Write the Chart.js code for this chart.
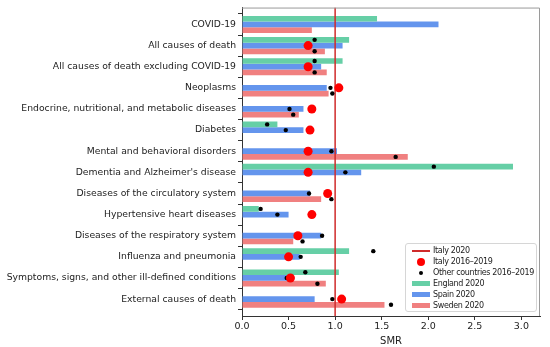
<!DOCTYPE html>
<html>
<head>
<meta charset="utf-8">
<script src="https://cdn.jsdelivr.net/npm/chart.js@4/dist/chart.umd.min.js"></script>
<style>
    body { margin: 0; background: #fff; }
    #wrap { position: relative; width: 550px; height: 347px; }
    #legend {
        position: absolute; left: 405px; top: 243px; width: 132px; height: 69px;
        border: 1px solid #d6d6d6; border-radius: 3px; background: rgba(255,255,255,0.85);
        font: 8px 'DejaVu Sans', sans-serif; letter-spacing: -0.35px; color: #222;
        box-sizing: border-box; padding-top: 1.5px; white-space: nowrap; overflow: hidden;
    }
    .item { display: flex; align-items: center; height: 10.9px; }
    .handle { width: 18px; flex: none; margin-left: 6px; margin-right: 3px; display: flex; justify-content: center; align-items: center; }
</style>
</head>
<body>
<div id="wrap">
    <canvas id="smr-chart" width="550" height="347"></canvas>
    <div id="legend"></div>
</div>
<script>
// Categories, top to bottom
const categories = [
    'COVID-19',
    'All causes of death',
    'All causes of death excluding COVID-19',
    'Neoplasms',
    'Endocrine, nutritional, and metabolic diseases',
    'Diabetes',
    'Mental and behavioral disorders',
    "Dementia and Alzheimer's disease",
    'Diseases of the circulatory system',
    'Hypertensive heart diseases',
    'Diseases of the respiratory system',
    'Influenza and pneumonia',
    'Symptoms, signs, and other ill-defined conditions',
    'External causes of death'
];

// SMR 2020 bars
const england2020 = [1.45, 1.15, 1.08, null, null, 0.38, null, 2.91, null, 0.18, null, 1.15, 1.04, null];
const spain2020 = [2.11, 1.08, 0.85, 0.91, 0.66, 0.66, 1.02, 1.28, 0.73, 0.50, 0.85, 0.62, 0.49, 0.78];
const sweden2020 = [0.75, 0.89, 0.91, 0.93, 0.61, null, 1.78, null, 0.85, null, 0.55, null, 0.90, 1.53];

// 2016-2019 reference points
const italyPast = [null, 0.71, 0.71, 1.04, 0.75, 0.73, 0.71, 0.71, 0.92, 0.75, 0.60, 0.50, 0.52, 1.07];
const otherEngland = [null, 0.78, 0.78, null, null, 0.27, null, 2.06, null, 0.20, null, 1.41, 0.68, null];
const otherSpain = [null, 0.69, 0.69, 0.95, 0.51, 0.47, 0.96, 1.11, 0.72, 0.38, 0.86, 0.63, 0.48, 0.97];
const otherSweden = [null, 0.78, 0.78, 0.97, 0.55, null, 1.65, null, 0.96, null, 0.65, null, 0.81, 1.60];

// Italy 2020 reference line
const italy2020 = 1.0;

const xTicks = [0, 0.5, 1, 1.5, 2, 2.5, 3];

const colors = {
    italyLine: '#cf2b2b',
    italyPast: '#ff0000',
    other: '#000000',
    england: '#66cfa6',
    spain: '#6495ed',
    sweden: '#f08080'
};

const catPct = 0.81;
const slot = catPct / 3;
const yMin = -0.8, yMax = categories.length - 1 + 0.8;

function barData(values) {
    return values.map((v, i) => ({ x: v, y: i })).filter(p => p.x !== null);
}
function dotData(values, offset) {
    return values.map((v, i) => ({ x: v, y: i + offset })).filter(p => p.x !== null);
}

const framePlugin = {
    id: 'frame',
    afterDatasetsDraw(chart) {
        const a = chart.chartArea;
        const ctx = chart.ctx;
        ctx.save();
        ctx.strokeStyle = '#9a9a9a';
        ctx.lineWidth = 1;
        ctx.beginPath();
        ctx.moveTo(a.left, a.top + 0.5);
        ctx.lineTo(a.right - 0.5, a.top + 0.5);
        ctx.lineTo(a.right - 0.5, a.bottom);
        ctx.stroke();
        ctx.restore();
    }
};

Chart.defaults.font.family = "'DejaVu Sans', sans-serif";
Chart.defaults.color = '#222';

const chart = new Chart(document.getElementById('smr-chart'), {
    type: 'bar',
    data: {
        datasets: [
            { type: 'scatter', label: 'Italy 2016\u20132019', data: dotData(italyPast, 0),
              backgroundColor: colors.italyPast, pointRadius: 4.5, pointBorderWidth: 0, order: 0 },
            { type: 'scatter', label: 'Other countries 2016\u20132019',
              data: dotData(otherEngland, -slot).concat(dotData(otherSpain, 0), dotData(otherSweden, slot)),
              backgroundColor: colors.other, pointRadius: 2.2, pointBorderWidth: 0, order: 1 },
            { type: 'line', label: 'Italy 2020', data: [{ x: italy2020, y: yMin }, { x: italy2020, y: yMax }],
              borderColor: colors.italyLine, borderWidth: 1.5, pointRadius: 0, order: 2 },
            { label: 'England 2020', data: barData(england2020), backgroundColor: colors.england, order: 3 },
            { label: 'Spain 2020', data: barData(spain2020), backgroundColor: colors.spain, order: 3 },
            { label: 'Sweden 2020', data: barData(sweden2020), backgroundColor: colors.sweden, order: 3 }
        ]
    },
    options: {
        indexAxis: 'y',
        responsive: false,
        animation: false,
        devicePixelRatio: 1,
        categoryPercentage: catPct,
        barPercentage: 1.0,
        layout: { padding: { top: 7, right: 10, left: 0, bottom: 0 } },
        plugins: { legend: { display: false }, tooltip: { enabled: false } },
        scales: {
            y: {
                type: 'linear',
                offset: false,
                min: yMin,
                max: yMax,
                reverse: true,
                afterBuildTicks: scale => { scale.ticks = categories.map((c, i) => ({ value: i })); },
                afterFit: scale => { scale.width = 242; },
                ticks: {
                    autoSkip: false,
                    font: { size: 9.25 },
                    padding: 2,
                    callback: v => categories[v]
                },
                grid: { drawOnChartArea: false, drawTicks: true, tickLength: 4, color: '#333' },
                border: { display: true, color: '#333' }
            },
            x: {
                type: 'linear',
                min: 0,
                max: 3.2,
                afterBuildTicks: scale => { scale.ticks = xTicks.map(v => ({ value: v })); },
                afterFit: scale => { scale.height = 31; },
                ticks: { font: { size: 9.5 }, padding: 1, callback: v => v.toFixed(1) },
                title: { display: true, text: 'SMR', font: { size: 10 }, padding: { top: 1, bottom: 0 } },
                grid: { drawOnChartArea: false, drawTicks: true, tickLength: 4, color: '#333' },
                border: { display: true, color: '#333' }
            }
        }
    },
    plugins: [framePlugin]
});

// HTML legend, in the order of the reference
const legendItems = [
    { text: 'Italy 2020', kind: 'line', color: colors.italyLine },
    { text: 'Italy 2016\u20132019', kind: 'dot', color: colors.italyPast, size: 8 },
    { text: 'Other countries 2016\u20132019', kind: 'dot', color: colors.other, size: 4 },
    { text: 'England 2020', kind: 'box', color: colors.england },
    { text: 'Spain 2020', kind: 'box', color: colors.spain },
    { text: 'Sweden 2020', kind: 'box', color: colors.sweden }
];
const legend = document.getElementById('legend');
legendItems.forEach(item => {
    const row = document.createElement('div');
    row.className = 'item';
    const handle = document.createElement('div');
    handle.className = 'handle';
    const mark = document.createElement('div');
    if (item.kind === 'line') {
        mark.style.cssText = `width:18px;height:1.5px;background:${item.color}`;
    } else if (item.kind === 'dot') {
        mark.style.cssText = `width:${item.size}px;height:${item.size}px;border-radius:50%;background:${item.color}`;
    } else {
        mark.style.cssText = `width:18px;height:5.5px;background:${item.color}`;
    }
    handle.appendChild(mark);
    const label = document.createElement('span');
    label.textContent = item.text;
    row.appendChild(handle);
    row.appendChild(label);
    legend.appendChild(row);
});
</script>
</body>
</html>
